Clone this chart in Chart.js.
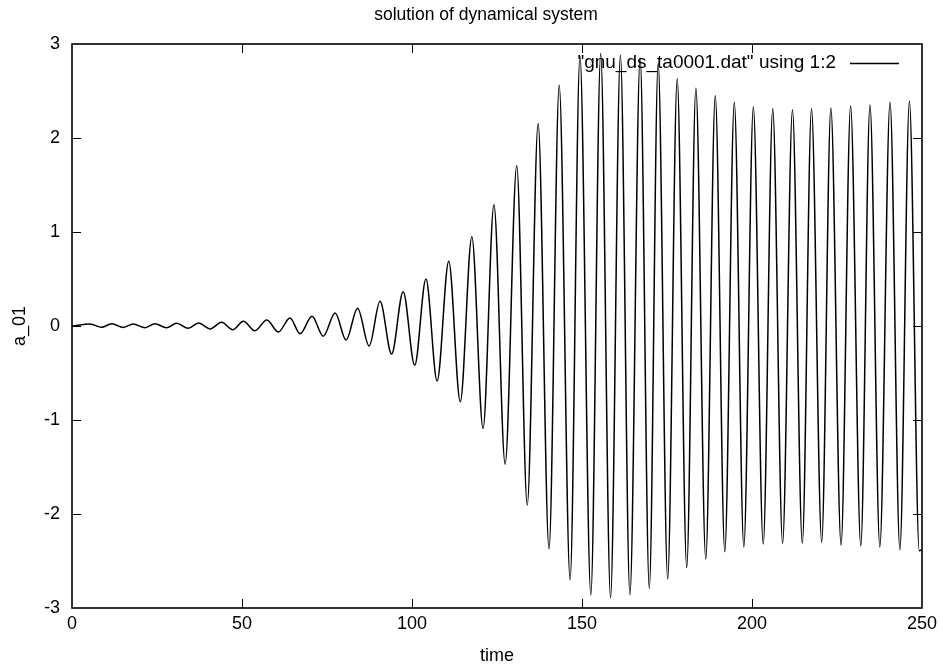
<!DOCTYPE html>
<html>
<head>
<meta charset="utf-8">
<script src="https://cdn.jsdelivr.net/npm/chart.js@4.4.1/dist/chart.umd.min.js"></script>
<style>
  html, body { margin: 0; padding: 0; background: #fff; }
  #wrap { width: 943px; height: 665px; }
</style>
</head>
<body>
<div id="wrap"><canvas id="c" width="943" height="665"></canvas></div>
<script>
// Values: local maxima and minima of a_01 versus time
const peakTimes = [5.3, 11.7, 18.0, 24.4, 30.8, 37.2, 44.0, 50.4, 57.3, 64.1, 70.6, 77.4, 84.0, 90.6, 97.4,
  104.1, 110.8, 117.6, 124.1, 130.8, 137.1, 143.3, 149.4, 155.5, 161.3, 167.1, 172.4, 178.0, 183.5,
  189.2, 194.8, 200.4, 206.1, 211.9, 217.5, 223.2, 229.0, 234.7, 240.6, 246.3];
const peakValues = [0.021, 0.024, 0.022, 0.025, 0.028, 0.032, 0.039, 0.050, 0.064, 0.085, 0.105, 0.138, 0.19, 0.262, 0.365,
  0.50, 0.69, 0.95, 1.29, 1.705, 2.155, 2.56, 2.87, 2.90, 2.88, 2.85, 2.79, 2.63, 2.53,
  2.45, 2.38, 2.33, 2.31, 2.30, 2.31, 2.32, 2.34, 2.35, 2.38, 2.39];
const troughTimes = [8.7, 15.1, 21.5, 27.8, 34.2, 40.6, 47.3, 53.8, 60.7, 67.1, 73.9, 80.6, 87.4, 94.0, 100.8,
  107.4, 114.2, 120.9, 127.4, 133.9, 140.3, 146.5, 152.6, 158.4, 164.1, 169.8, 175.2, 180.8, 186.4,
  192.0, 197.6, 203.3, 209.0, 214.8, 220.5, 226.2, 232.0, 237.6, 243.5, 249.2];
const troughValues = [-0.014, -0.015, -0.018, -0.019, -0.025, -0.031, -0.039, -0.050, -0.064, -0.082, -0.108, -0.15, -0.213, -0.298, -0.418,
  -0.585, -0.805, -1.09, -1.47, -1.905, -2.37, -2.70, -2.86, -2.89, -2.86, -2.79, -2.69, -2.57, -2.48,
  -2.40, -2.35, -2.32, -2.31, -2.31, -2.30, -2.33, -2.34, -2.35, -2.38, -2.39];
const startPoint = [0, 0];
const endPoint = [250, -2.38];

const xTicks = [0, 50, 100, 150, 200, 250];
const yTicks = [-3, -2, -1, 0, 1, 2, 3];

const titleText = 'solution of dynamical system';
const legendText = '"gnu_ds_ta0001.dat" using 1:2';
const xTitle = 'time';
const yTitle = 'a_01';

// build the point list for the library
const pts = [{x: startPoint[0], y: startPoint[1]}];
peakTimes.forEach((t, i) => pts.push({x: t, y: peakValues[i]}));
troughTimes.forEach((t, i) => pts.push({x: t, y: troughValues[i]}));
pts.push({x: endPoint[0], y: endPoint[1]});
pts.sort((a, b) => a.x - b.x);

const FONT = '"Liberation Sans", Arial, Helvetica, sans-serif';

const framePlugin = {
  id: 'frame',
  afterDatasetsDraw(chart) {
    const {ctx, chartArea: a, scales: {x, y}} = chart;
    ctx.save();
    ctx.strokeStyle = '#000';
    ctx.lineWidth = 1;
    const L = 9;
    ctx.beginPath();
    xTicks.forEach(v => {
      if (v === x.min || v === x.max) return;
      const px = Math.round(x.getPixelForValue(v)) + 0.5;
      ctx.moveTo(px, a.bottom); ctx.lineTo(px, a.bottom - L);
      ctx.moveTo(px, a.top); ctx.lineTo(px, a.top + L);
    });
    yTicks.forEach(v => {
      if (v === y.min || v === y.max) return;
      const py = Math.round(y.getPixelForValue(v)) + 0.5;
      ctx.moveTo(a.left, py); ctx.lineTo(a.left + L, py);
      ctx.moveTo(a.right, py); ctx.lineTo(a.right - L, py);
    });
    ctx.stroke();
    ctx.lineWidth = 1.6;
    ctx.strokeRect(a.left, a.top, a.right - a.left, a.bottom - a.top);

    // title
    ctx.fillStyle = '#000';
    ctx.font = '17.5px ' + FONT;
    ctx.textAlign = 'center';
    ctx.textBaseline = 'alphabetic';
    ctx.fillText(titleText, 486, 20);

    // key
    ctx.font = '19px ' + FONT;
    ctx.textAlign = 'right';
    ctx.fillText(legendText, 836, 68);
    ctx.lineWidth = 1.3;
    ctx.beginPath();
    ctx.moveTo(850, 63.5); ctx.lineTo(899, 63.5);
    ctx.stroke();
    ctx.restore();
  }
};

new Chart(document.getElementById('c'), {
  type: 'line',
  data: {
    datasets: [{
      label: legendText,
      data: pts,
      borderColor: '#000',
      borderWidth: 1.5,
      pointRadius: 0,
      fill: false,
      cubicInterpolationMode: 'monotone'
    }]
  },
  options: {
    responsive: false,
    animation: false,
    events: [],
    layout: { padding: { top: 44, right: 21, bottom: 0, left: 0 } },
    plugins: { legend: { display: false }, title: { display: false }, tooltip: { enabled: false } },
    scales: {
      x: {
        type: 'linear', min: 0, max: 250,
        afterBuildTicks(s) { s.ticks = xTicks.map(v => ({value: v})); },
        afterFit(s) { s.height = 57; },
        grid: { display: false, drawTicks: false },
        border: { display: false },
        ticks: { color: '#000', padding: 5, font: { family: FONT, size: 18 }, maxRotation: 0, autoSkip: false },
        title: { display: true, text: xTitle, color: '#000', font: { family: FONT, size: 18, lineHeight: 1 }, padding: { top: 0, bottom: 0 } }
      },
      y: {
        type: 'linear', min: -3, max: 3,
        afterBuildTicks(s) { s.ticks = yTicks.map(v => ({value: v})); },
        afterFit(s) { s.width = 72; },
        grid: { display: false, drawTicks: false },
        border: { display: false },
        ticks: { color: '#000', padding: 12, font: { family: FONT, size: 18 }, autoSkip: false },
        title: { display: true, text: yTitle, color: '#000', font: { family: FONT, size: 18 }, padding: { top: 9, bottom: 0 } }
      }
    }
  },
  plugins: [framePlugin]
});
</script>
</body>
</html>
